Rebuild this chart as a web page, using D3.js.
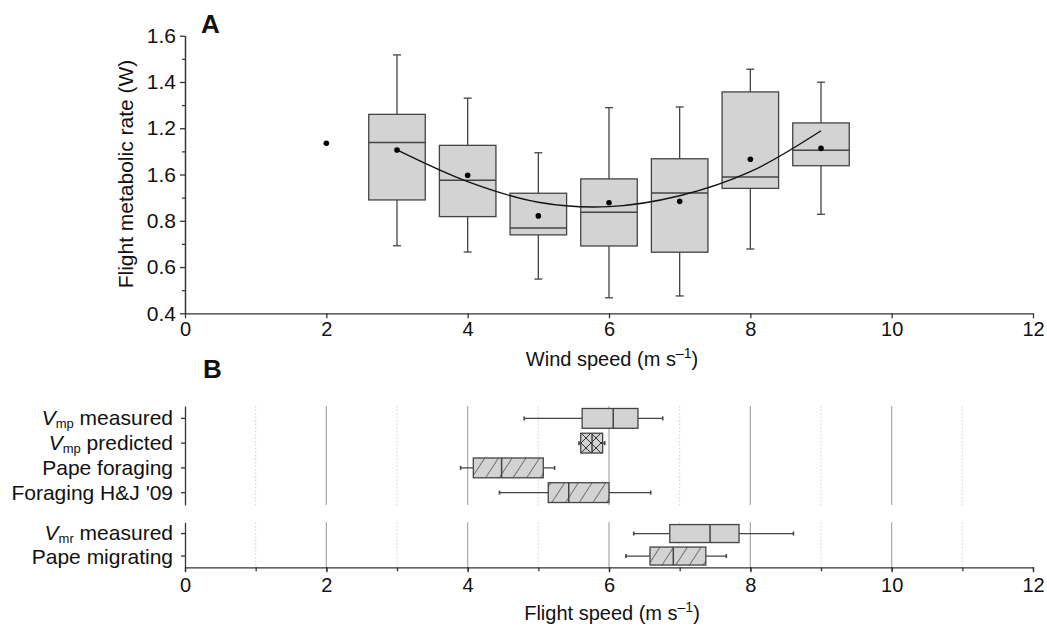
<!DOCTYPE html>
<html>
<head>
<meta charset="utf-8">
<script src="https://cdn.jsdelivr.net/npm/d3@7"></script>
<style>
  body { margin: 0; background: #fff; }
  svg text { font-family: "Liberation Sans", Arial, sans-serif; fill: #111; }
</style>
</head>
<body>
<div id="chart"></div>
<script>
// ---- panel A data: wind speed vs metabolic rate ----
const windSpeeds   = [3, 4, 5, 6, 7, 8, 9];
const whiskerLow   = [0.692, 0.665, 0.548, 0.467, 0.475, 0.678, 0.828];
const quartileLow  = [0.890, 0.818, 0.739, 0.691, 0.664, 0.940, 1.038];
const medians      = [1.138, 0.975, 0.769, 0.837, 0.920, 0.989, 1.105];
const quartileHigh = [1.260, 1.126, 0.919, 0.981, 1.068, 1.357, 1.223];
const whiskerHigh  = [1.517, 1.330, 1.094, 1.289, 1.292, 1.455, 1.399];
const meansX = [2, 3, 4, 5, 6, 7, 8, 9];
const meansY = [1.135, 1.106, 0.997, 0.821, 0.878, 0.884, 1.066, 1.113];
// fitted curve
const fitX = [3, 4, 5, 6, 7, 8, 9];
const fitY = [1.106, 0.969, 0.880, 0.861, 0.908, 1.012, 1.189];
const yTickValues = [0.4, 0.6, 0.8, 1.0, 1.2, 1.4, 1.6];
const yTickLabels = ["0.4", "0.6", "0.8", "1.6", "1.2", "1.4", "1.6"];
const xTickValues = [0, 2, 4, 6, 8, 10, 12];

// ---- panel B data: flight speeds ----
const groupTop = ["vmpMeas", "vmpPred", "papeFor", "hj09"];
const groupBot = ["vmrMeas", "papeMig"];
const catLabels = {
  vmpMeas: ["V", "mp", " measured"],
  vmpPred: ["V", "mp", " predicted"],
  papeFor: [null, null, "Pape foraging"],
  hj09:    [null, null, "Foraging H&J '09"],
  vmrMeas: ["V", "mr", " measured"],
  papeMig: [null, null, "Pape migrating"]
};
const speedCats = ["vmpMeas", "vmpPred", "papeFor", "hj09", "vmrMeas", "papeMig"];
const speedWLo  = [4.80, 5.575, 3.90, 4.45, 6.35, 6.24];
const speedQ1   = [5.62, 5.60, 4.08, 5.14, 6.86, 6.58];
const speedMed  = [6.06, 5.76, 4.48, 5.43, 7.43, 6.91];
const speedQ3   = [6.41, 5.91, 5.07, 6.00, 7.84, 7.37];
const speedWHi  = [6.76, 5.94, 5.23, 6.59, 8.61, 7.66];
const speedFill = ["plain", "cross", "hatch", "hatch", "plain", "hatch"];

const W = 1047, H = 627;
const svg = d3.select("#chart").append("svg")
    .attr("width", W).attr("height", H);

const defs = svg.append("defs");
defs.append("pattern")
    .attr("id", "hatch").attr("patternUnits", "userSpaceOnUse")
    .attr("width", 11.5).attr("height", 10)
    .attr("patternTransform", "rotate(33)")
  .call(p => {
    p.append("rect").attr("width", 11.5).attr("height", 10).attr("fill", "#d3d3d3");
    p.append("line").attr("x1", 0).attr("y1", 0).attr("x2", 0).attr("y2", 10)
      .attr("stroke", "#333").attr("stroke-width", 1.2);
  });
defs.append("pattern")
    .attr("id", "cross").attr("patternUnits", "userSpaceOnUse")
    .attr("width", 10).attr("height", 10).attr("x", 1).attr("y", 3)
  .call(p => {
    p.append("rect").attr("width", 10).attr("height", 10).attr("fill", "#d3d3d3");
    p.append("path").attr("d", "M0,0L10,10M10,0L0,10")
      .attr("stroke", "#333").attr("stroke-width", 1);
  });

const boxFill = "#d3d3d3", boxStroke = "#444";

// ================= panel A =================
const x = d3.scaleLinear().domain([0, 12]).range([185, 1033]);
const yA = d3.scaleLinear().domain([0.4, 1.6]).range([313.3, 35.7]);

const gA = svg.append("g");

gA.append("g")
    .attr("transform", "translate(0,313.3)")
    .call(d3.axisBottom(x).tickValues(xTickValues).tickSize(5).tickPadding(4).tickSizeOuter(0))
    .call(g => g.selectAll("text").attr("font-size", 20).attr("font-family", null))
    .call(g => g.selectAll("line,path").attr("stroke", "#333").attr("stroke-width", 1.3));

gA.append("g")
    .attr("transform", "translate(185,0)")
    .call(d3.axisLeft(yA).tickValues(d3.range(0.5, 1.6, 0.2)).tickSize(3).tickFormat("").tickSizeOuter(0))
    .call(g => g.selectAll("line,path").attr("stroke", "#333").attr("stroke-width", 1.2));
gA.append("g")
    .attr("transform", "translate(185,0)")
    .call(d3.axisLeft(yA).tickValues(yTickValues).tickSize(5).tickPadding(4).tickSizeOuter(0)
      .tickFormat((d, i) => yTickLabels[i]))
    .call(g => g.selectAll("text").attr("font-size", 21).attr("font-family", null))
    .call(g => g.selectAll("line,path").attr("stroke", "#333").attr("stroke-width", 1.3));

const boxW = x(0.8) - x(0);
const boxes = gA.selectAll("g.box").data(windSpeeds).join("g").attr("class", "box");
boxes.append("line")
    .attr("x1", d => x(d)).attr("x2", d => x(d))
    .attr("y1", (d, i) => yA(whiskerLow[i])).attr("y2", (d, i) => yA(whiskerHigh[i]))
    .attr("stroke", boxStroke).attr("stroke-width", 1.3);
[whiskerLow, whiskerHigh].forEach(arr => {
  boxes.append("line")
      .attr("x1", d => x(d) - 4).attr("x2", d => x(d) + 4)
      .attr("y1", (d, i) => yA(arr[i])).attr("y2", (d, i) => yA(arr[i]))
      .attr("stroke", boxStroke).attr("stroke-width", 1.3);
});
boxes.append("rect")
    .attr("x", d => x(d) - boxW / 2).attr("width", boxW)
    .attr("y", (d, i) => yA(quartileHigh[i]))
    .attr("height", (d, i) => yA(quartileLow[i]) - yA(quartileHigh[i]))
    .attr("fill", boxFill).attr("stroke", boxStroke).attr("stroke-width", 1.3);
boxes.append("line")
    .attr("x1", d => x(d) - boxW / 2).attr("x2", d => x(d) + boxW / 2)
    .attr("y1", (d, i) => yA(medians[i])).attr("y2", (d, i) => yA(medians[i]))
    .attr("stroke", boxStroke).attr("stroke-width", 1.5);

gA.append("path")
    .datum(fitX.map((d, i) => [d, fitY[i]]))
    .attr("d", d3.line().x(d => x(d[0])).y(d => yA(d[1])).curve(d3.curveCatmullRom))
    .attr("fill", "none").attr("stroke", "#111").attr("stroke-width", 1.4);

gA.selectAll("circle.mean").data(meansX).join("circle")
    .attr("class", "mean")
    .attr("cx", d => x(d)).attr("cy", (d, i) => yA(meansY[i]))
    .attr("r", 2.8).attr("fill", "#000");

gA.append("text")
    .attr("transform", "translate(133,174) rotate(-90)")
    .attr("text-anchor", "middle").attr("font-size", 21)
    .text("Flight metabolic rate (W)");

const wt = gA.append("text")
    .attr("x", 612).attr("y", 366).attr("text-anchor", "middle").attr("font-size", 20);
wt.append("tspan").text("Wind speed (m s");
wt.append("tspan").attr("font-size", 14).attr("dy", -8).text("–1");
wt.append("tspan").attr("dy", 8).text(")");

svg.append("text").attr("x", 201).attr("y", 33)
    .attr("font-size", 26).attr("font-weight", "bold").text("A");

// ================= panel B =================
const gB = svg.append("g");
const yTop = d3.scaleBand().domain(groupTop).range([406, 505]);
const yBot = d3.scaleBand().domain(groupBot).range([522.3, 567.3]);
const bandOf = c => groupTop.includes(c) ? yTop : yBot;

[yTop, yBot].forEach(s => {
  const [r0, r1] = s.range();
  // grid
  gB.append("g").selectAll("line").data(d3.range(1, 12)).join("line")
      .attr("x1", d => x(d)).attr("x2", d => x(d))
      .attr("y1", r0).attr("y2", r1)
      .attr("stroke", d => d % 2 === 0 ? "#a8a8a8" : "#cfcfcf")
      .attr("stroke-width", d => d % 2 === 0 ? 1.2 : 1)
      .attr("stroke-dasharray", d => d % 2 === 0 ? null : "1.5,2");
  // category axis
  gB.append("g")
      .attr("transform", "translate(185,0)")
      .call(d3.axisLeft(s).tickSize(4).tickSizeOuter(0).tickFormat(""))
      .call(g => g.selectAll("line,path").attr("stroke", "#333").attr("stroke-width", 1.3));
});

gB.append("g")
    .attr("transform", "translate(0,567.3)")
    .call(d3.axisBottom(x).ticks(12).tickSize(4).tickSizeOuter(0).tickFormat(""))
    .call(g => g.selectAll("line,path").attr("stroke", "#333").attr("stroke-width", 1.3));
gB.append("g")
    .attr("transform", "translate(0,567.3)")
    .call(d3.axisBottom(x).tickValues(xTickValues).tickSize(5).tickPadding(6).tickSizeOuter(0))
    .call(g => g.select(".domain").remove())
    .call(g => g.selectAll("text").attr("font-size", 20).attr("font-family", null))
    .call(g => g.selectAll("line").attr("stroke", "#333").attr("stroke-width", 1.3));

// category labels (bottom pair sits tight, so nudge baselines apart a little)
const labelNudge = { vmrMeas: -1, papeMig: 1 };
speedCats.forEach(c => {
  const s = bandOf(c);
  const [it, sub, rest] = catLabels[c];
  const t = gB.append("text")
      .attr("x", 173).attr("y", s(c) + s.bandwidth() / 2 + 7 + (labelNudge[c] || 0))
      .attr("text-anchor", "end").attr("font-size", 21);
  if (it) {
    t.append("tspan").attr("font-style", "italic").text(it);
    t.append("tspan").attr("font-size", 13).attr("dy", 3).text(sub);
    t.append("tspan").attr("dy", -3).text(rest);
  } else {
    t.text(rest);
  }
});

const hb = gB.selectAll("g.hbox").data(speedCats).join("g").attr("class", "hbox");
const cy = c => bandOf(c)(c) + bandOf(c).bandwidth() / 2;
const bh = c => bandOf(c).bandwidth() * 0.8;
hb.append("line")
    .attr("x1", (c, i) => x(speedWLo[i])).attr("x2", (c, i) => x(speedWHi[i]))
    .attr("y1", cy).attr("y2", cy)
    .attr("stroke", boxStroke).attr("stroke-width", 1.3);
[speedWLo, speedWHi].forEach(arr => {
  hb.append("line")
      .attr("x1", (c, i) => x(arr[i])).attr("x2", (c, i) => x(arr[i]))
      .attr("y1", c => cy(c) - 2).attr("y2", c => cy(c) + 2)
      .attr("stroke", boxStroke).attr("stroke-width", 1.6);
});
hb.append("rect")
    .attr("x", (c, i) => x(speedQ1[i]))
    .attr("width", (c, i) => x(speedQ3[i]) - x(speedQ1[i]))
    .attr("y", c => cy(c) - bh(c) / 2).attr("height", bh)
    .attr("fill", (c, i) => speedFill[i] === "plain" ? boxFill : `url(#${speedFill[i]})`)
    .attr("stroke", boxStroke).attr("stroke-width", 1.3);
hb.append("line")
    .attr("x1", (c, i) => x(speedMed[i])).attr("x2", (c, i) => x(speedMed[i]))
    .attr("y1", c => cy(c) - bh(c) / 2).attr("y2", c => cy(c) + bh(c) / 2)
    .attr("stroke", boxStroke).attr("stroke-width", 1.5);

const ft = gB.append("text")
    .attr("x", 612).attr("y", 620).attr("text-anchor", "middle").attr("font-size", 20);
ft.append("tspan").text("Flight speed (m s");
ft.append("tspan").attr("font-size", 14).attr("dy", -8).text("–1");
ft.append("tspan").attr("dy", 8).text(")");

svg.append("text").attr("x", 203).attr("y", 378)
    .attr("font-size", 26).attr("font-weight", "bold").text("B");
</script>
</body>
</html>
